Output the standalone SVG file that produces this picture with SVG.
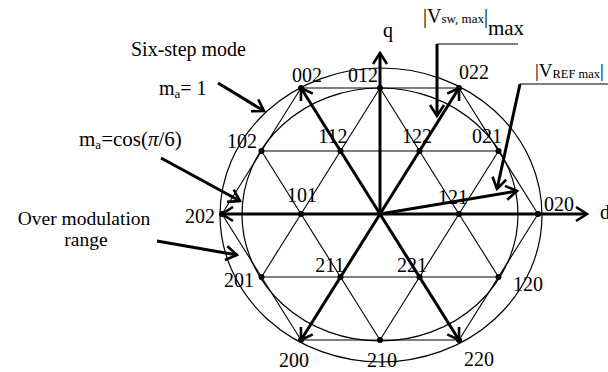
<svg xmlns="http://www.w3.org/2000/svg" width="608" height="372" viewBox="0 0 608 372">
<style>
text{font-family:"Liberation Serif","Times New Roman",serif;fill:#000}
.lbl{font-size:20px;text-anchor:middle}
.g{stroke:#000;stroke-width:1.1;fill:none}
.t{stroke:#000;stroke-width:3;fill:none;marker-end:url(#ah)}
.c{stroke:#000;stroke-width:1.2;fill:none}
.d{fill:#000}
</style>
<defs>
<marker id="ah" viewBox="-14 -9 16 18" refX="0" refY="0" markerWidth="16" markerHeight="18" markerUnits="userSpaceOnUse" orient="auto">
<path d="M-11,-7 L0,0 L-11,7" fill="none" stroke="#000" stroke-width="2.6"/>
</marker>
</defs>
<rect width="608" height="372" fill="#fff"/>
<g id="circles">
<ellipse class="c" cx="381" cy="215" rx="161" ry="147"/>
<ellipse class="c" cx="380" cy="214.5" rx="138" ry="126.5"/>
</g>
<g id="grid">
<line class="g" x1="301" y1="88" x2="459" y2="88"/>
<line class="g" x1="261.5" y1="151" x2="498.5" y2="151"/>
<line class="g" x1="261.5" y1="277" x2="498.5" y2="277"/>
<line class="g" x1="301" y1="340" x2="459" y2="340"/>
<line class="g" x1="301" y1="88" x2="222" y2="214"/>
<line class="g" x1="380" y1="88" x2="261.5" y2="277"/>
<line class="g" x1="459" y1="88" x2="301" y2="340"/>
<line class="g" x1="498.5" y1="151" x2="380" y2="340"/>
<line class="g" x1="538" y1="214" x2="459" y2="340"/>
<line class="g" x1="459" y1="88" x2="538" y2="214"/>
<line class="g" x1="380" y1="88" x2="498.5" y2="277"/>
<line class="g" x1="301" y1="88" x2="459" y2="340"/>
<line class="g" x1="261.5" y1="151" x2="380" y2="340"/>
<line class="g" x1="222" y1="214" x2="301" y2="340"/>
</g>
<g id="connectors">
<line class="t" x1="380" y1="214" x2="301" y2="88"/>
<line class="t" x1="380" y1="214" x2="459" y2="88"/>
<line class="t" x1="380" y1="214" x2="222" y2="214"/>
<line class="t" x1="380" y1="214" x2="587" y2="214"/>
<line class="t" x1="380" y1="214" x2="301" y2="340"/>
<line class="t" x1="380" y1="214" x2="459" y2="340"/>
<line class="t" x1="380" y1="214" x2="380" y2="53"/>
<line class="t" x1="380" y1="214" x2="517" y2="191"/>
<line class="g" x1="437" y1="44" x2="518" y2="44"/>
<line class="t" x1="437" y1="44" x2="437" y2="116"/>
<line class="g" x1="520" y1="84" x2="608" y2="84"/>
<line class="t" x1="520" y1="84" x2="497" y2="189"/>
<line class="t" x1="218" y1="83" x2="264" y2="111"/>
<line class="t" x1="161" y1="158" x2="240" y2="201"/>
<line class="t" x1="157" y1="241" x2="237" y2="255"/>
</g>
<g id="dots">
<circle class="d" cx="301" cy="88" r="3"/>
<circle class="d" cx="380" cy="88" r="3"/>
<circle class="d" cx="459" cy="88" r="3"/>
<circle class="d" cx="261.5" cy="151" r="3"/>
<circle class="d" cx="340.5" cy="151" r="3"/>
<circle class="d" cx="419.5" cy="151" r="3"/>
<circle class="d" cx="498.5" cy="151" r="3"/>
<circle class="d" cx="222" cy="214" r="3"/>
<circle class="d" cx="301" cy="214" r="3"/>
<circle class="d" cx="459" cy="214" r="3"/>
<circle class="d" cx="538" cy="214" r="3"/>
<circle class="d" cx="261.5" cy="277" r="3"/>
<circle class="d" cx="340.5" cy="277" r="3"/>
<circle class="d" cx="419.5" cy="277" r="3"/>
<circle class="d" cx="498.5" cy="277" r="3"/>
<circle class="d" cx="301" cy="340" r="3"/>
<circle class="d" cx="380" cy="340" r="3"/>
<circle class="d" cx="459" cy="340" r="3"/>
</g>
<g id="labels">
<text class="lbl" x="307" y="82">002</text>
<text class="lbl" x="363" y="82">012</text>
<text class="lbl" x="474" y="79">022</text>
<text class="lbl" x="242" y="148">102</text>
<text class="lbl" x="333" y="143">112</text>
<text class="lbl" x="417" y="143">122</text>
<text class="lbl" x="487" y="143">021</text>
<text class="lbl" x="200" y="223">202</text>
<text class="lbl" x="302" y="202">101</text>
<text class="lbl" x="453" y="204">121</text>
<text class="lbl" x="559" y="211">020</text>
<text class="lbl" x="239" y="287">201</text>
<text class="lbl" x="330" y="272">211</text>
<text class="lbl" x="412" y="272">221</text>
<text class="lbl" x="528" y="291">120</text>
<text class="lbl" x="294" y="367">200</text>
<text class="lbl" x="382" y="367">210</text>
<text class="lbl" x="479" y="366">220</text>
<text class="lbl" x="388" y="37">q</text>
<text x="600" y="219" font-size="20">d</text>
<text x="131" y="56" font-size="20">Six-step mode</text>
<text x="159" y="95" font-size="20">m<tspan font-size="13" dy="3">a</tspan><tspan dy="-3">= 1</tspan></text>
<text x="79" y="146" font-size="21">m<tspan font-size="13" dy="3">a</tspan><tspan dy="-3">=cos(</tspan><tspan font-style="italic">π</tspan>/6)</text>
<text x="84" y="225" font-size="19.5" text-anchor="middle">Over modulation</text>
<text x="86" y="246" font-size="19.5" text-anchor="middle">range</text>
<text x="423" y="23" font-size="20">|V<tspan font-size="13">sw, max</tspan>|<tspan dy="12" font-size="21">max</tspan></text>
<text x="535" y="77" font-size="19">|V<tspan font-size="12.5" dy="1">REF max</tspan><tspan dy="-1">|</tspan></text>
</g>
</svg>
